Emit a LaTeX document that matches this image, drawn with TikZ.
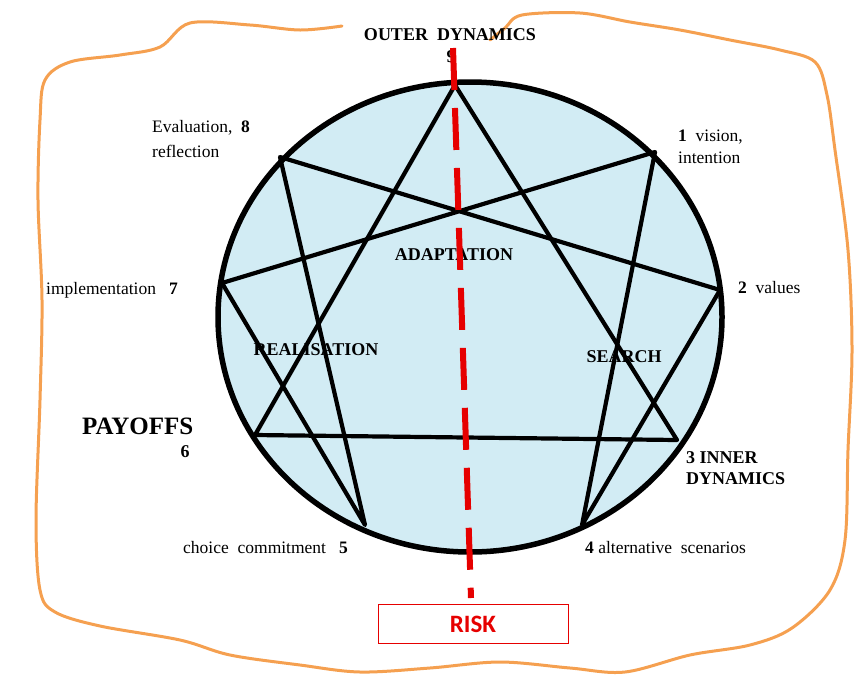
\documentclass[tikz,border=0pt]{standalone}
\usepackage{fontspec}
\setmainfont{Liberation Serif}
\newfontfamily\riskfont{Carlito}
\usetikzlibrary{positioning}
\definecolor{circfill}{RGB}{210,236,244}
\definecolor{orangeline}{RGB}{245,160,80}
\definecolor{riskred}{RGB}{230,0,0}
\tikzset{
  lbl/.style={font=\fontsize{17.5}{20}\selectfont, inner sep=0pt, anchor=west, align=left},
  blbl/.style={font=\fontsize{18}{21}\selectfont\bfseries, inner sep=0pt},
  chord/.style={line width=4.2pt, line cap=round, line join=round},
}
\begin{document}
\begin{tikzpicture}[x=1pt,y=-1pt]
\useasboundingbox (0,0) rectangle (856,689);
% orange hand-drawn border
\draw[orangeline, line width=3pt, line cap=round, line join=round]
  plot[smooth, tension=0.55] coordinates {
  (490,40) (505,28) (522,15) (580,13) (630,22) (680,30) (730,40) (780,50)
  (815,62) (827,95) (835,150) (848,250) (852,350) (848,450) (845,540)
  (830,590) (792,628) (750,645) (690,655) (625,672) (570,668) (500,662)
  (430,668) (360,672) (300,665) (230,655) (180,640) (100,626) (55,612)
  (40,590) (36,520) (40,400) (42,300) (38,200) (40,120) (45,80) (70,62)
  (120,55) (160,47) (190,23) (250,25) (300,30) (342,26)};
% circle fill
\fill[circfill] (470,317) ellipse [x radius=252, y radius=235];
% vertices
\coordinate (p9) at (455,85);
\coordinate (p1) at (655,152);
\coordinate (p2) at (720,290);
\coordinate (p3) at (677,440);
\coordinate (p4) at (582,525);
\coordinate (p5) at (365,525);
\coordinate (p6) at (255,435);
\coordinate (p7) at (222,283);
\coordinate (p8) at (280,157);
% triangle
\draw[chord] (p9) -- (p3) -- (p6) -- cycle;
% hexad
\draw[chord] (p1) -- (p4) -- (p2) -- (p8) -- (p5) -- (p7) -- cycle;
% circle border
\draw[line width=5.5pt] (470,317) ellipse [x radius=252, y radius=235];
% labels
\node[blbl] (outer) at (450,35) {OUTER\ \ DYNAMICS};
\node[blbl] (nine) at (451,57) {9};
\node[lbl] (eval) at (152,128) {Evaluation,\ \ \textbf{8}};
\node[lbl] (refl) at (152,151) {reflection};
\node[lbl] (vis) at (678,137) {\textbf{1}\ \ vision,};
\node[lbl] (inten) at (678,158) {intention};
\node[lbl] (impl) at (46,290) {implementation\ \ \ \textbf{7}};
\node[lbl] (val) at (738,288) {\textbf{2}\ \ values};
\node[font=\fontsize{25}{28}\selectfont\bfseries, inner sep=0pt, anchor=west] (pay) at (82,426) {PAYOFFS};
\node[blbl] (six) at (185,452) {6};
\node[blbl, anchor=west] (inner) at (686,458) {3 INNER};
\node[blbl, anchor=west] (dyn) at (686,479) {DYNAMICS};
\node[lbl] (choice) at (183,548) {choice\ \ commitment\ \ \ \textbf{5}};
\node[lbl] (alt) at (585,548) {\textbf{4} alternative\ \ scenarios};
\node[blbl] (adapt) at (454,255) {ADAPTATION};
\node[blbl] (real) at (316,350) {REALISATION};
\node[blbl] (search) at (624,357) {SEARCH};
% risk
\node[draw=riskred, line width=1pt, minimum width=190pt, minimum height=39pt, inner sep=0pt,
  font=\riskfont\fontsize{25}{28}\selectfont\bfseries, text=riskred] (risk) at (473,624) {RISK};
\coordinate (rtop) at (453,48);
\coordinate (rbot) at (471,598);
\draw[riskred, line width=6pt, dash pattern=on 42pt off 18pt] (rtop) -- (rbot);
\end{tikzpicture}
\end{document}
